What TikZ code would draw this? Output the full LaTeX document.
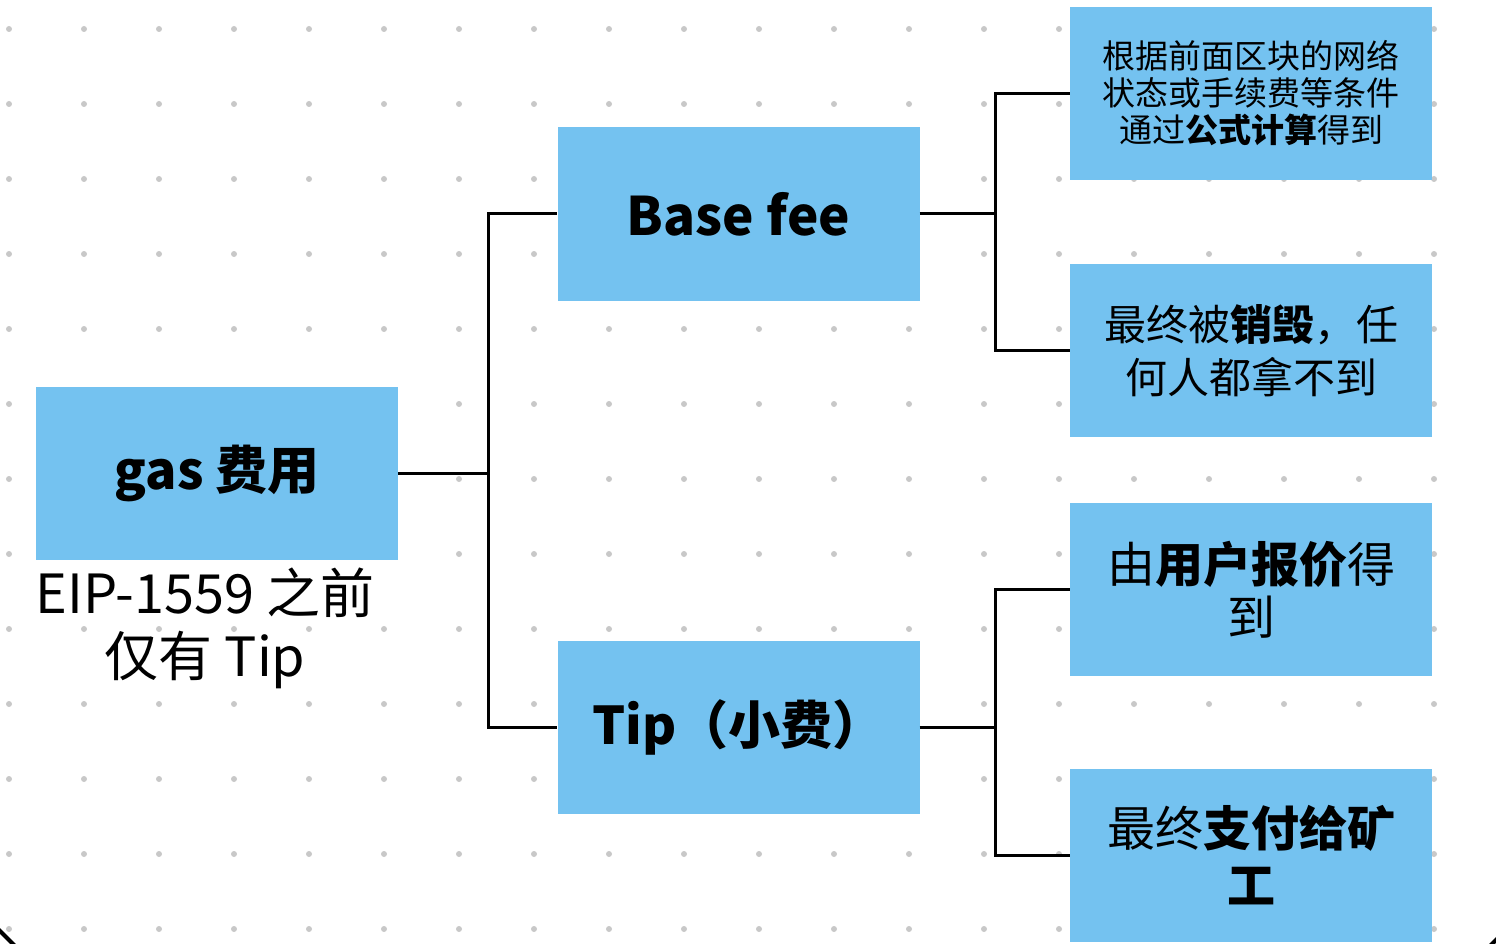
\documentclass[tikz,border=0pt]{standalone}
\usepackage{fontspec}
\setmainfont{Noto Sans CJK SC}
\usepackage{tikz}
\usetikzlibrary{positioning}
\definecolor{feeblue}{RGB}{116,194,240}
\definecolor{griddot}{RGB}{200,200,200}

\begin{document}
\begin{tikzpicture}[x=1pt,y=-1pt,
  feebox/.style={fill=feeblue,minimum width=362pt,minimum height=173pt,align=center},
  link/.style={black,line width=3pt}]
\tikzstyle{every node}+=[inner sep=0pt]
\useasboundingbox (0,0) rectangle (1496,944);
\foreach \x in {9,84,...,1434}
  \foreach \y in {29,104,...,929}
    \fill [griddot] (\x,\y) circle (3pt);
\draw [line width=4pt] (-3,928) -- (16,947);
\draw [line width=4pt] (1489,947) -- (1499,937);
\node [feebox,font=\bfseries\fontsize{52}{60}\selectfont] (gas) at (217,473.5) {gas 费用};
\node [align=center,font=\fontsize{54}{63}\selectfont] (before) at (205,628) {EIP-1559 之前\\仅有 Tip};
\node [feebox,font=\bfseries\fontsize{53}{60}\selectfont] (base) at (738.5,214) {Base fee};
\node [feebox,font=\bfseries\fontsize{52}{60}\selectfont] (tip) at (738.5,727) {Tip（小费）};
\node [feebox,font=\fontsize{33}{37}\selectfont] (formula) at (1251,93.5) {根据前面区块的网络\\状态或手续费等条件\\通过\textbf{公式计算}得到};
\node [feebox,font=\fontsize{42}{53}\selectfont] (burn) at (1251,350.5) {最终被\textbf{销毁}，任\\何人都拿不到};
\node [feebox,font=\fontsize{48}{53}\selectfont] (bid) at (1251,589.5) {由\textbf{用户报价}得\\到};
\node [feebox,font=\fontsize{48}{57}\selectfont] (miner) at (1251,855) {最终\textbf{支付给矿}\\\textbf{工}};
\coordinate (split) at (488,473.5);
\coordinate (basesplit) at (995,214);
\coordinate (tipsplit) at (995,727);
\draw [link] (gas.east) -- (split);
\draw [link] (split) |- (base.west);
\draw [link] (split) |- (tip.west);
\draw [link] (base.east) -- (basesplit);
\draw [link] (basesplit) |- (formula.west);
\draw [link] (basesplit) |- (burn.west);
\draw [link] (tip.east) -- (tipsplit);
\draw [link] (tipsplit) |- (bid.west);
\draw [link] (tipsplit) |- (miner.west);
\end{tikzpicture}
\end{document}
